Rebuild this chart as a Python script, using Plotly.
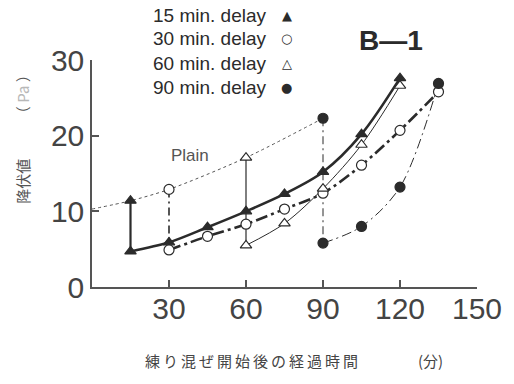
import plotly.graph_objects as go

# ---- data ----
time_plain = [0, 15, 30, 60, 90]
yield_plain = [10.3, 11.4, 12.9, 17.1, 22.3]

time_15 = [15, 30, 45, 60, 75, 90, 105, 120]
yield_15 = [4.7, 5.9, 7.9, 10.0, 12.3, 15.2, 20.2, 27.6]

time_30 = [30, 45, 60, 75, 90, 105, 120, 135]
yield_30 = [4.9, 6.7, 8.3, 10.3, 12.4, 16.1, 20.7, 25.8]

time_60 = [60, 75, 90, 105, 120]
yield_60 = [5.5, 8.4, 13.0, 18.8, 26.6]

time_90 = [90, 105, 120, 135]
yield_90 = [5.8, 8.0, 13.2, 26.9]

legend_labels = ["15 min. delay", "30 min. delay", "60 min. delay", "90 min. delay"]
legend_symbols = ["▲", "○", "△", "●"]
x_ticks = [30, 60, 90, 120, 150]
y_ticks = [0, 10, 20, 30]

INK = "#2b2b2b"
GRAY = "#444444"

series = [
    # (times, values, plain index of delay start, width, dash, symbol, filled, drop width, drop dash)
    (time_15, yield_15, 1, 2.6, "solid", "triangle-up", True, 2.2, "solid"),
    (time_30, yield_30, 2, 2.6, "12px,4px,3px,4px", "circle", False, 1.6, "8px,4px,2px,4px"),
    (time_60, yield_60, 3, 1.0, "solid", "triangle-up", False, 1.2, "solid"),
    (time_90, yield_90, 4, 1.0, "10px,4px,2px,4px", "circle", True, 1.0, "8px,4px,2px,4px"),
]

fig = go.Figure()

# Plain curve
fig.add_trace(go.Scatter(
    x=time_plain, y=yield_plain, mode="lines",
    line=dict(color="#555555", width=1, dash="3px,3px", shape="spline", smoothing=0.8),
    hoverinfo="skip"))

# drop lines and series curves
for t, v, pi, lw, dash, sym, filled, dlw, ddash in series:
    fig.add_trace(go.Scatter(
        x=[time_plain[pi], t[0]], y=[yield_plain[pi], v[0]], mode="lines",
        line=dict(color=INK, width=dlw, dash=ddash), hoverinfo="skip"))
    fig.add_trace(go.Scatter(
        x=t, y=v, mode="lines",
        line=dict(color=INK, width=lw, dash=dash, shape="spline", smoothing=0.9),
        hoverinfo="skip"))

# markers on top
for t, v, pi, lw, dash, sym, filled, dlw, ddash in series:
    xs = [time_plain[pi]] + t
    ys = [yield_plain[pi]] + v
    fig.add_trace(go.Scatter(
        x=xs, y=ys, mode="markers",
        marker=dict(symbol=sym, size=10,
                    color=INK if filled else "white",
                    line=dict(color=INK, width=1.2)),
        hoverinfo="skip"))

# legend as text
for i, (lab, s) in enumerate(zip(legend_labels, legend_symbols)):
    py = 15 + i * 24
    fig.add_annotation(
        xref="paper", yref="paper",
        x=(152 - 92) / 389, y=(287 - py) / 227,
        xanchor="left", yanchor="middle", showarrow=False,
        text=lab, font=dict(family="Liberation Sans", size=19, color=INK))
    fig.add_annotation(
        xref="paper", yref="paper",
        x=(289 - 92) / 389, y=(287 - py) / 227,
        xanchor="center", yanchor="middle", showarrow=False,
        text=s, font=dict(family="DejaVu Sans", size=13, color=INK))

fig.add_annotation(
    xref="paper", yref="paper", x=(394 - 92) / 389, y=(287 - 40) / 227,
    xanchor="center", yanchor="middle", showarrow=False,
    text="<b>B—1</b>", font=dict(family="Liberation Sans", size=28, color=INK))

fig.add_annotation(
    xref="x", yref="y", x=38, y=17.4, xanchor="center", yanchor="middle",
    showarrow=False, text="Plain",
    font=dict(family="Liberation Sans", size=17, color="#555555"))

# y title (rotated)
fig.add_annotation(
    xref="paper", yref="paper", x=(21 - 92) / 389, y=(287 - 136) / 227,
    xanchor="center", yanchor="middle", showarrow=False, textangle=-90,
    text="降伏値　　　（<span style='color:#b8b8b8'> Pa </span>）",
    font=dict(family="Noto Sans CJK JP", size=15, color="#555555"))

# x title
fig.add_annotation(
    xref="paper", yref="paper", x=(144 - 92) / 389, y=(287 - 360) / 227,
    xanchor="left", yanchor="middle", showarrow=False,
    text="\u2009".join("練り混ぜ開始後の経過時間") + "　　　　(分)",
    font=dict(family="Noto Sans CJK JP", size=15, color="#444444"))

axis_common = dict(
    showline=True, linecolor="#555555", linewidth=1.5,
    ticks="inside", ticklen=7, tickwidth=1.5, tickcolor="#555555",
    showgrid=False, zeroline=False,
    tickfont=dict(family="Liberation Sans", size=30, color=GRAY),
)

fig.update_layout(
    width=514, height=384,
    margin=dict(l=92, r=33, t=60, b=97),
    paper_bgcolor="white", plot_bgcolor="white",
    showlegend=False,
    xaxis=dict(range=[0, 150], tickvals=x_ticks, ticktext=[str(v) for v in x_ticks],
               ticklabelstandoff=-6, **axis_common),
    yaxis=dict(range=[0, 30], tickvals=y_ticks, ticktext=[str(v) for v in y_ticks],
               ticklabelstandoff=0, **axis_common),
)

fig.write_html("out.html", config={"displayModeBar": False},
               post_script="document.body.style.margin='0';")
